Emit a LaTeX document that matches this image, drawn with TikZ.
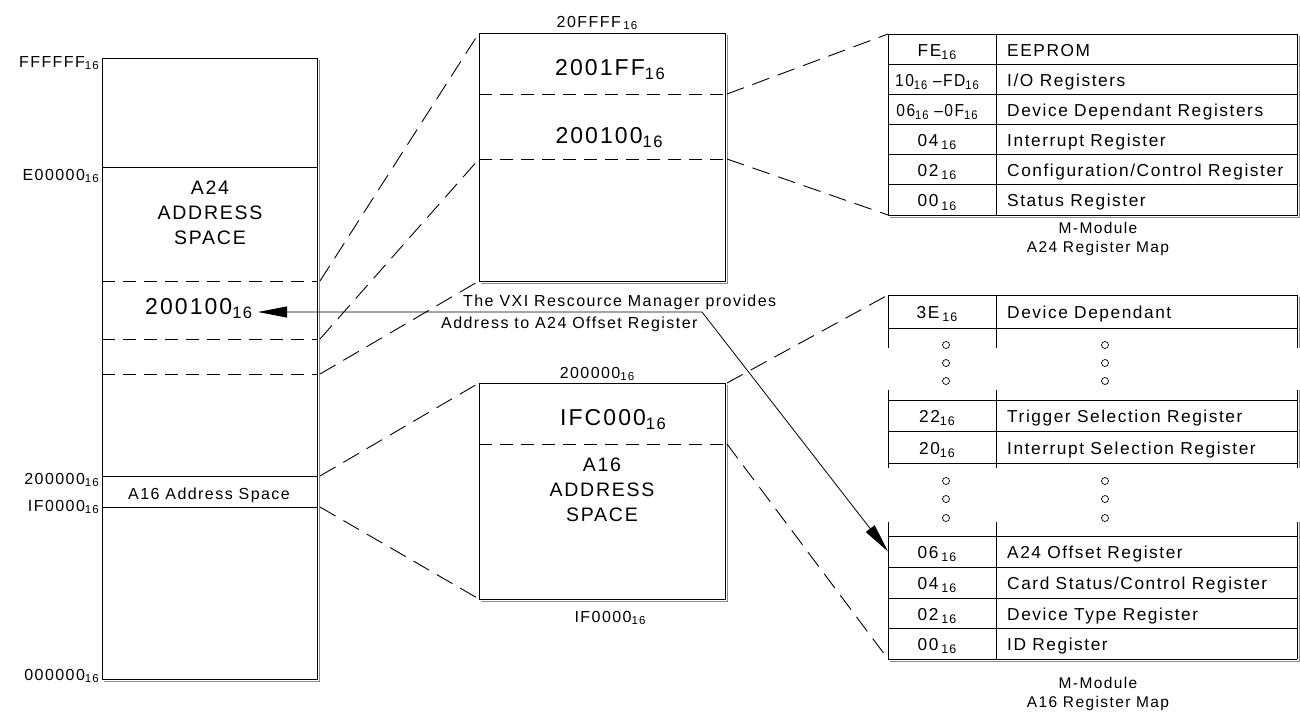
\documentclass[tikz,border=0pt]{standalone}
\usepackage{fontspec}
\usepackage{graphicx}
\setmainfont{Liberation Sans}[LetterSpace=9]
\usetikzlibrary{arrows.meta}
\newcommand{\sxt}{\raisebox{-0.35ex}{\scalebox{0.72}{16}}}
\newcommand{\fsz}[2]{\fontsize{#1}{#2}\selectfont}
\newcommand{\regrow}[4]{%
  \node[celltext, anchor=base] (#1a) at (937,#2) {#3};
  \node[celltext, anchor=base west] (#1d) at (1007,#2) {#4};}
\begin{document}
\begin{tikzpicture}[x=1pt,y=-1pt,
  frame/.style={line width=1pt},
  shadowline/.style={line width=1pt, draw=black!45},
  innerdash/.style={line width=1pt, dash pattern=on 13pt off 8pt},
  linkdash/.style={line width=0.9pt, dash pattern=on 18pt off 9pt},
  lbl/.style={inner sep=0pt, font=\fsz{16}{18}},
  bigtext/.style={inner sep=0pt, font=\fsz{23}{26}},
  midtext/.style={inner sep=0pt, font=\fsz{19.5}{25}, align=center},
  celltext/.style={inner sep=0pt, font=\fsz{17.3}{20}},
  capt/.style={inner sep=0pt, font=\fsz{15.5}{18.5}, align=center},
  ringdot/.style={circle, draw, inner sep=0pt, minimum size=7pt, line width=0.7pt},
  arr/.style={line width=0.8pt, {Triangle[length=29pt,width=11pt]}-{Triangle[length=29pt,width=11pt]}},
]
\useasboundingbox[fill=white] (0,0) rectangle (1300,713);

% ---------------- left column: full address space
\draw[frame] (102,58) rectangle (317,679);
\draw[shadowline] (319.5,60) -- (319.5,681.5) -- (104,681.5);
\draw[frame] (102,167) -- (317,167);
\draw[innerdash] (102,281) -- (317,281);
\draw[innerdash] (102,339) -- (317,339);
\draw[innerdash] (102,374) -- (317,374);
\draw[frame] (102,476) -- (317,476);
\draw[frame] (102,507) -- (317,507);
\coordinate (Ld1) at (320,281);
\coordinate (Ld2) at (320,339);
\coordinate (Ld3) at (320,374);
\coordinate (L2k) at (320,476);
\coordinate (L1f) at (320,507);

\node[lbl, anchor=base east] (lF) at (99,67) {FFFFFF\sxt};
\node[lbl, anchor=base east] (lE) at (99,180) {E00000\sxt};
\node[lbl, anchor=base east] (l2) at (99,484) {200000\sxt};
\node[lbl, anchor=base east] (l1) at (99,511) {IF0000\sxt};
\node[lbl, anchor=base east] (l0) at (99,680) {000000\sxt};

\node[midtext] (a24) at (210,213) {A24\\ADDRESS\\SPACE};
\node[bigtext, anchor=base west] (n200100) at (145,314) {200100\sxt};
\node[lbl, anchor=base] (a16s) at (209,499) {A16 Address Space};

% ---------------- middle top box
\draw[frame] (479,33) rectangle (725,281);
\draw[shadowline] (727.5,35) -- (727.5,283.5) -- (481,283.5);
\draw[innerdash] (479,94) -- (725,94);
\draw[innerdash] (479,159) -- (725,159);
\coordinate (MTtl) at (479,33);
\coordinate (MTd1r) at (727,94);
\coordinate (MTd2l) at (479,159);
\coordinate (MTd2r) at (727,159);
\coordinate (MTbl) at (479,281);
\node[lbl, anchor=base] (t20ffff) at (597,27) {20FFFF\,\sxt};
\node[bigtext, anchor=base] (t2001ff) at (610,75) {2001FF\sxt};
\node[bigtext, anchor=base] (t200100) at (609,143) {200100\sxt};

% ---------------- middle bottom box
\draw[frame] (479,383) rectangle (725,599);
\draw[shadowline] (727.5,385) -- (727.5,601.5) -- (481,601.5);
\draw[innerdash] (479,444) -- (725,444);
\coordinate (MBtl) at (479,383);
\coordinate (MBtr) at (727,383);
\coordinate (MBdr) at (727,444);
\coordinate (MBbl) at (479,599);
\node[lbl, anchor=base] (b200000) at (597,378) {200000\sxt};
\node[bigtext, anchor=base] (bifc000) at (613,425) {IFC000\sxt};
\node[midtext] (a16) at (602,490) {A16\\ADDRESS\\SPACE};
\node[lbl, anchor=base] (bif0000) at (610,622) {IF0000\sxt};

% ---------------- right top table: A24 register map
\draw[frame] (888,34) rectangle (1297,215);
\draw[shadowline] (1299.5,36) -- (1299.5,217.5) -- (890,217.5);
\draw[frame] (996,34) -- (996,215);
\foreach \yy in {64.2,94.3,124.5,154.7,184.8} {\draw[frame] (888,\yy) -- (1297,\yy);}
\coordinate (RTtl) at (888,34);
\coordinate (RTbl) at (888,215);
\regrow{rFE}{56}{FE\sxt}{EEPROM}
\regrow{rIO}{86.2}{\scalebox{0.9}[1]{10\sxt\ –FD\sxt}}{I/O Registers}
\regrow{rDD}{116.4}{\scalebox{0.9}[1]{06\sxt\ –0F\sxt}}{Device Dependant Registers}
\regrow{rIR}{146.5}{04\,\sxt}{Interrupt Register}
\regrow{rCC}{176.7}{02\,\sxt}{Configuration/Control Register}
\regrow{rSR}{206.9}{00\,\sxt}{Status Register}
\node[capt] (capA24) at (1098,239) {M-Module\\A24 Register Map};

% ---------------- right bottom table: A16 register map
\foreach \yy in {295,328,400,431,463,536,567,598,628,659} {\draw[frame] (888,\yy) -- (1297,\yy);}
\foreach \xx in {888,996,1297} {
  \draw[frame] (\xx,295) -- (\xx,348);
  \draw[frame] (\xx,390) -- (\xx,468);
  \draw[frame] (\xx,522) -- (\xx,659);}
\draw[shadowline] (1299.5,297) -- (1299.5,348);
\draw[shadowline] (1299.5,390) -- (1299.5,468);
\draw[shadowline] (1299.5,522) -- (1299.5,661.5) -- (890,661.5);
\coordinate (RBtl) at (888,295);
\coordinate (RBbl) at (888,659);
\coordinate (r06w) at (888,551.5);
\regrow{r3E}{318.5}{3E\,\sxt}{Device Dependant}
\regrow{r22}{422.5}{22\sxt}{Trigger Selection Register}
\regrow{r20}{454}{20\sxt}{Interrupt Selection Register}
\regrow{r06}{558.5}{06\,\sxt}{A24 Offset Register}
\regrow{r04}{589.5}{04\,\sxt}{Card Status/Control Register}
\regrow{r02}{620}{02\,\sxt}{Device Type Register}
\regrow{r00}{650.5}{00\,\sxt}{ID Register}
\foreach \yy [count=\i] in {345,363,381} {
  \node[ringdot] (ga\i) at (946,\yy) {};
  \node[ringdot] (gb\i) at (1105,\yy) {};}
\foreach \yy [count=\i] in {481,499,518} {
  \node[ringdot] (gc\i) at (946,\yy) {};
  \node[ringdot] (gd\i) at (1105,\yy) {};}
\node[capt] (capA16) at (1098,694) {M-Module\\A16 Register Map};

% ---------------- dashed connectors
\draw[linkdash] (Ld1) -- (MTtl);
\draw[linkdash] (Ld2) -- (MTd2l);
\draw[linkdash] (Ld3) -- (MTbl);
\draw[linkdash] (L2k) -- (MBtl);
\draw[linkdash] (L1f) -- (MBbl);
\draw[linkdash] (MTd1r) -- (RTtl);
\draw[linkdash] (MTd2r) -- (RTbl);
\draw[linkdash] (MBtr) -- (RBtl);
\draw[linkdash] (MBdr) -- (RBbl);

% ---------------- resource manager arrow
\coordinate (tipL) at (258,312);
\coordinate (bend) at (702,312);
\draw[arr] (tipL) -- (bend) -- (r06w);
\node[lbl, anchor=base west] (rm1) at (463,306.5) {The VXI Rescource Manager provides};
\node[lbl, anchor=base west] (rm2) at (441,328) {Address to A24 Offset Register};
\end{tikzpicture}
\end{document}
